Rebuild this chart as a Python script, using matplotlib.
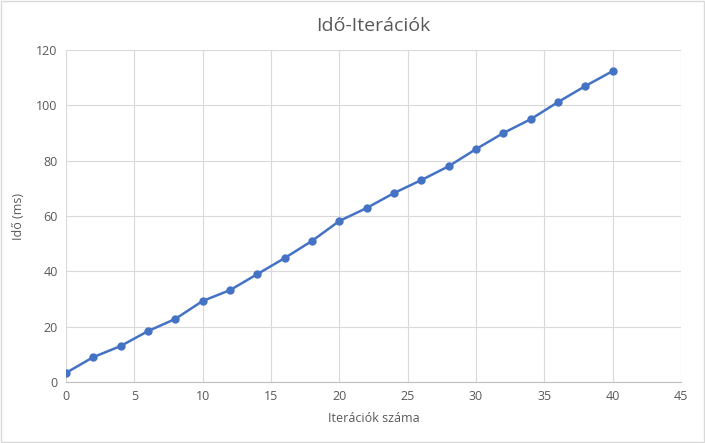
import matplotlib.pyplot as plt
from matplotlib.patches import Rectangle

iterations = [0, 2, 4, 6, 8, 10, 12, 14, 16, 18, 20, 22, 24, 26, 28, 30, 32, 34, 36, 38, 40]
times_ms = [3.3, 9, 13, 18.4, 22.8, 29.3, 33.2, 39, 44.8, 51, 58.2, 62.9, 68.3, 73, 78,
            84.2, 90, 95, 101.2, 107, 112.4]

plt.rcParams['font.family'] = ['Open Sans', 'DejaVu Sans']
grey = '#595959'

fig = plt.figure(figsize=(7.05, 4.43), dpi=100)
fig.patches.append(Rectangle((0.002, 0.002), 0.996, 0.995, transform=fig.transFigure,
                             fill=False, edgecolor='#d9d9d9', linewidth=1))
ax = fig.add_axes([0.0936, 0.1377, 0.8724, 0.7493])

ax.plot(iterations, times_ms, color='#4472c4', linewidth=1.8, marker='o', markersize=5)

ax.set_xlim(0, 45)
ax.set_ylim(0, 120)
ax.set_xticks(range(0, 46, 5))
ax.set_yticks(range(0, 121, 20))
ax.grid(True, color='#d9d9d9', linewidth=0.8)
ax.set_axisbelow(True)
for side in ['top', 'right', 'left']:
    ax.spines[side].set_visible(False)
ax.spines['bottom'].set_color('#bfbfbf')
ax.tick_params(length=0, labelsize=9, colors=grey, pad=6)

ax.set_title('Idő-Iterációk', fontsize=14, color=grey, pad=14)
ax.set_xlabel('Iterációk száma', fontsize=9, color=grey, labelpad=6)
ax.set_ylabel('Idő (ms)', fontsize=9, color=grey, labelpad=8)

fig.savefig('out.png', dpi=100)
